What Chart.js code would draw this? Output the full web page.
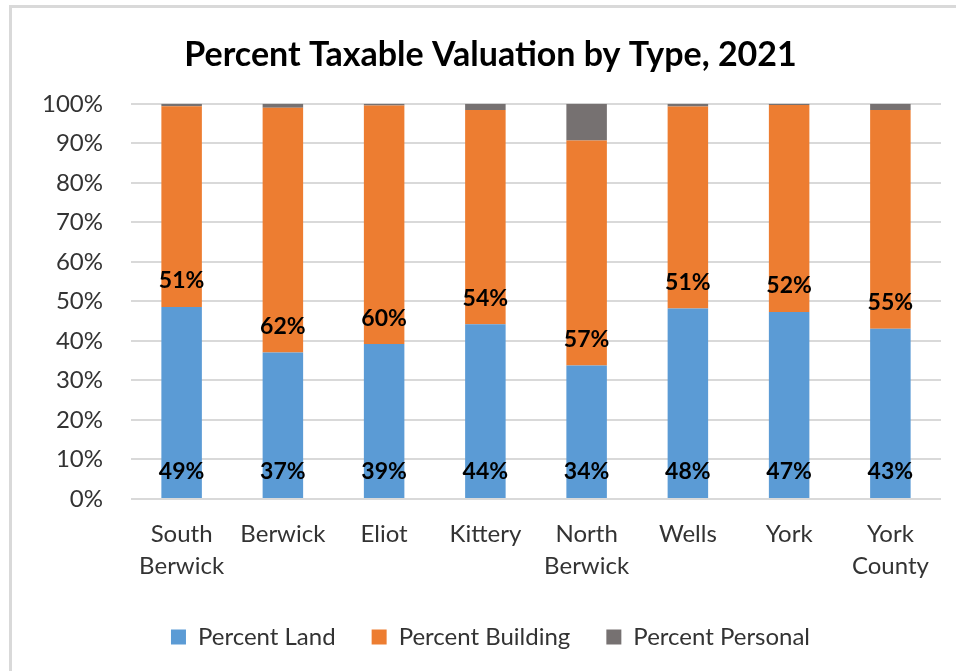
<!DOCTYPE html>
<html>
<head>
<meta charset="utf-8">
<script src="https://cdn.jsdelivr.net/npm/chart.js@4.4.0/dist/chart.umd.min.js"></script>
<style>
  html, body { margin: 0; padding: 0; background: #fff; overflow: hidden; }
  #frame { position: absolute; left: 9px; top: 5px; width: 980px; height: 700px;
           border-left: 3px solid #d9d9d9; border-top: 3px solid #d9d9d9; }
  #wrap { position: absolute; left: 0; top: 0; width: 956px; height: 671px; }
</style>
</head>
<body>
<div id="frame"></div>
<div id="wrap"><canvas id="chart"></canvas></div>
<script>
// Percent Taxable Valuation by Type, 2021 - stacked columns

const towns = [['South', 'Berwick'], 'Berwick', 'Eliot', 'Kittery', ['North', 'Berwick'], 'Wells', 'York', ['York', 'County']];
const landPct = [48.6, 37.1, 39.2, 44.2, 33.8, 48.2, 47.3, 43.1];
const buildingPct = [50.8, 61.9, 60.4, 54.2, 56.9, 51.1, 52.4, 55.3];
const personalPct = [0.6, 1.0, 0.4, 1.6, 9.3, 0.7, 0.3, 1.6];
const yTicks = [0, 10, 20, 30, 40, 50, 60, 70, 80, 90, 100];

const FONT = 'Lato, "Open Sans", sans-serif';
const LEFT_PAD = 40;

// labels at the base of the land and building segments (Excel "inside base")
const baseLabels = {
  id: 'baseLabels',
  afterDatasetsDraw(chart) {
    const ctx = chart.ctx;
    ctx.save();
    ctx.font = 'bold 23px ' + FONT;
    ctx.fillStyle = '#000';
    ctx.textAlign = 'center';
    ctx.textBaseline = 'middle';
    [0, 1].forEach(di => {
      const meta = chart.getDatasetMeta(di);
      const vals = chart.data.datasets[di].data;
      meta.data.forEach((bar, i) => {
        const p = bar.getProps(['x', 'base'], true);
        ctx.fillText(Math.round(vals[i]) + '%', p.x, p.base - 26);
      });
    });
    ctx.restore();
  }
};

new Chart(document.getElementById('chart'), {
  type: 'bar',
  data: {
    labels: towns,
    datasets: [
      { label: 'Percent Land', data: landPct, backgroundColor: '#5b9bd5' },
      { label: 'Percent Building', data: buildingPct, backgroundColor: '#ed7d31' },
      { label: 'Percent Personal', data: personalPct, backgroundColor: '#767171' }
    ]
  },
  options: {
    responsive: true,
    maintainAspectRatio: false,
    animation: false,
    layout: { padding: { left: LEFT_PAD, right: 15, top: 0, bottom: 12 } },
    datasets: { bar: { barPercentage: 0.4, categoryPercentage: 1.0 } },
    plugins: {
      title: {
        display: true,
        text: 'Percent Taxable Valuation by Type, 2021',
        color: '#000',
        font: { family: FONT, size: 34, weight: 'bold' },
        padding: { top: 35, bottom: 28 }
      },
      legend: {
        position: 'bottom',
        labels: {
          color: '#333',
          font: { family: FONT, size: 24 },
          boxWidth: 15,
          boxHeight: 15,
          padding: 36
        }
      },
      tooltip: { enabled: false }
    },
    scales: {
      x: {
        stacked: true,
        afterFit(scale) { scale.height = 90; },
        grid: { display: false },
        border: { display: false },
        ticks: { color: '#333', font: { family: FONT, size: 24, lineHeight: 1.35 }, padding: 11, maxRotation: 0 }
      },
      y: {
        stacked: true,
        min: 0,
        max: 100,
        afterBuildTicks(scale) { scale.ticks = yTicks.map(v => ({ value: v })); },
        afterFit(scale) { scale.width = 131 - LEFT_PAD; },
        grid: { color: '#d9d9d9', lineWidth: 2, drawTicks: false },
        border: { display: false },
        ticks: { color: '#333', font: { family: FONT, size: 24 }, padding: 28, callback: v => v + '%' }
      }
    }
  },
  plugins: [baseLabels]
});
</script>
</body>
</html>
